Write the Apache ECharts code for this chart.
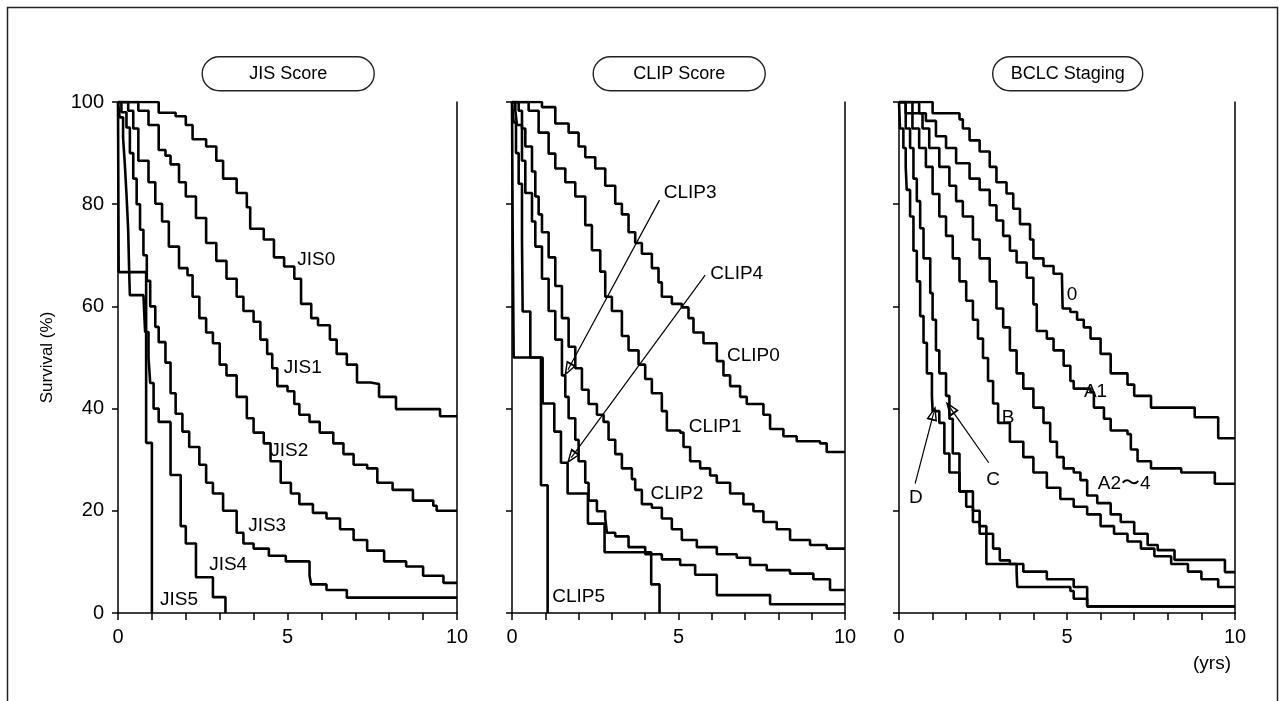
<!DOCTYPE html>
<html><head><meta charset="utf-8">
<script src="https://cdn.jsdelivr.net/npm/echarts@6/dist/echarts.min.js"></script>
<style>html,body{margin:0;padding:0;background:#fff}#c{width:1280px;height:701px}</style>
</head><body><div id="c"></div>
<script>
// ---------- data (years, survival %) ----------
const panelTitles = ['JIS Score', 'CLIP Score', 'BCLC Staging'];
const xTickValues = [0, 5, 10];
const yTickValues = [0, 20, 40, 60, 80, 100];
const xUnit = '(yrs)';
const yName = 'Survival (%)';

const JIS0 = [[0,100],[0.6,100],[1.2,97.9],[1.7,97.2],[2.0,95.5],[2.2,92.7],[2.6,91.3],[2.9,88.5],[3.1,85],[3.5,82.2],[3.8,79.4],[3.9,75.2],[4.3,73.1],[4.6,69.6],[4.9,67.8],[5.2,65.4],[5.4,60.5],[5.7,57.7],[5.9,56.3],[6.25,53.5],[6.45,50.7],[6.75,48.6],[7.05,45.1],[7.45,44.8],[7.7,42.3],[8.2,39.9],[9.5,38.5],[10,38.5]];
const JIS1 = [[0,100],[0.3,100],[0.6,98.3],[0.9,95.5],[1.2,90.6],[1.4,89.5],[1.55,87.8],[1.8,84.3],[2.0,81.5],[2.3,77.3],[2.6,72.4],[2.9,68.9],[3.2,65.4],[3.5,61.9],[3.7,59.1],[4.0,57.0],[4.2,53.5],[4.4,50.7],[4.55,47.9],[4.7,44.4],[5.0,43.4],[5.2,40.9],[5.35,38.8],[5.65,37.4],[5.95,35.3],[6.35,33.2],[6.65,31.1],[6.95,29.0],[7.35,28.3],[7.65,25.5],[8.1,24.1],[8.7,22.0],[9.3,21.0],[9.4,20.0],[10,20.0]];
const JIS2 = [[0,100],[0.1,100],[0.3,98.3],[0.45,94.8],[0.6,88.5],[0.9,84.3],[1.1,80.1],[1.3,76.6],[1.5,71.7],[1.8,67.5],[2.05,66.1],[2.2,61.9],[2.4,57.7],[2.6,54.9],[2.8,52.8],[3.0,48.6],[3.2,46.5],[3.5,42.3],[3.8,38.1],[4.0,35.3],[4.3,33.2],[4.5,29.7],[4.8,25.5],[5.1,23.4],[5.35,21.3],[5.75,19.6],[6.15,18.5],[6.55,16.4],[6.95,14.3],[7.35,12.2],[7.85,10.1],[8.5,9.1],[9.0,7.3],[9.6,5.9],[10,5.9]];
const JIS3 = [[0,100],[0.1,98],[0.25,95],[0.35,90],[0.45,85],[0.55,80],[0.65,75],[0.75,70],[0.85,65],[0.95,60],[1.1,56],[1.2,53],[1.4,49],[1.55,43],[1.7,39],[1.9,35.5],[2.1,32.5],[2.4,29],[2.6,25.5],[2.8,23.4],[3.1,20],[3.5,15.7],[3.7,13.6],[4.0,12.6],[4.45,11.2],[4.95,10.1],[5.65,7.3],[5.7,5.6],[6.15,4.5],[6.75,3.0],[10,3.0]];
const JIS4 = [[0,100],[0.05,97],[0.15,93],[0.2,88],[0.25,82],[0.3,75],[0.33,66.7],[0.35,62.2],[0.75,62.2],[0.8,55],[0.9,50],[0.95,45],[1.05,40],[1.2,37.4],[1.55,27],[1.85,17],[2.0,13.6],[2.3,7.0],[2.8,3.1],[3.17,0]];
const JIS5 = [[0,100],[0.02,66.7],[0.83,33.3],[1.0,0]];

const CLIP0 = [[0,100],[0.7,100],[0.9,99],[1.3,95.8],[1.7,94],[2.0,91.3],[2.2,89.2],[2.5,87],[2.8,83.6],[3.1,80.1],[3.3,78],[3.5,74.5],[3.7,72.4],[3.9,70.3],[4.2,67.5],[4.4,64.7],[4.5,61.9],[4.8,60.5],[5.1,59.8],[5.3,57.7],[5.45,54.9],[5.75,52.8],[6.15,49.3],[6.35,46.5],[6.55,44.4],[6.85,42.3],[7.05,40.9],[7.55,38.8],[7.75,36.0],[8.15,34.6],[8.55,33.6],[9.25,33.2],[9.45,31.5],[10,31.5]];
const CLIP1 = [[0,100],[0.3,100],[0.5,98.3],[0.8,94],[1.1,89.9],[1.3,87],[1.6,84.3],[1.9,81.5],[2.2,75.9],[2.4,71],[2.65,66.8],[2.8,61.9],[3.0,59.1],[3.3,54.2],[3.5,51.4],[3.8,48.6],[4.0,45.8],[4.2,43.0],[4.5,39.5],[4.65,35.7],[5.05,35.3],[5.15,32.5],[5.35,29.7],[5.65,28.3],[5.95,26.9],[6.15,25.5],[6.55,23.4],[6.95,21.3],[7.25,19.9],[7.55,17.8],[7.95,16.4],[8.35,14.3],[8.95,13.3],[9.45,12.6],[10,12.6]];
const CLIP2 = [[0,100],[0.1,100],[0.2,98.3],[0.3,94.8],[0.4,91.3],[0.6,86.4],[0.7,81.5],[0.8,78],[0.9,74.5],[1.1,69.6],[1.3,64],[1.5,57.7],[1.7,52.1],[1.9,47.9],[2.1,43.7],[2.3,40.9],[2.55,38.8],[2.75,37.4],[2.9,33.9],[3.1,31.1],[3.3,28.3],[3.6,26.2],[3.7,24.1],[3.9,21.3],[4.2,20.6],[4.5,18.5],[4.8,16.4],[5.1,14.3],[5.55,12.9],[6.15,11.5],[6.75,10.8],[7.15,9.4],[7.65,8.4],[8.35,7.7],[9.05,6.6],[9.55,4.5],[10,4.5]];
const CLIP3 = [[0,100],[0.05,100],[0.1,98.3],[0.15,95.5],[0.3,88.5],[0.4,82.2],[0.6,76.6],[0.7,71.7],[0.9,65.4],[1.1,59.1],[1.3,53.5],[1.5,46.5],[1.6,42.3],[1.7,38.1],[1.9,33.9],[2.0,29.7],[2.2,25.5],[2.3,22],[2.55,19.9],[2.8,18.5],[2.85,15.7],[3.1,15.0],[3.5,12.9],[4.0,11.5],[4.5,10.5],[5.05,9.4],[5.5,7.5],[6.15,3.5],[7.75,1.7],[10,1.7]];
const CLIP4 = [[0,100],[0.05,96],[0.12,90],[0.2,84],[0.3,73],[0.32,59],[0.55,50],[0.92,41],[1.27,35.5],[1.47,29.4],[1.67,23.4],[2.28,17.5],[2.78,11.9],[4.18,5.6],[4.43,0]];
const CLIP5 = [[0,100],[0.02,75],[0.05,50],[0.87,25],[1.07,0]];

const BCLC0 = [[0,100],[0.6,100],[1.0,97.8],[1.8,96.6],[1.9,94.8],[2.1,92.5],[2.4,90.3],[2.7,87.3],[2.9,84.3],[3.2,82.1],[3.4,79.1],[3.6,76.1],[3.9,73.1],[4.0,69.4],[4.3,67.9],[4.6,66.4],[4.85,65.6],[4.87,59.6],[5.1,58.9],[5.3,57.4],[5.5,55.9],[5.7,53.7],[6.0,50.7],[6.3,46.9],[6.8,44.7],[7.0,42.5],[7.5,40.2],[8.8,38.3],[9.5,34.2],[10,34.2]];
const BCLCA1 = [[0,100],[0.3,100],[0.6,97.8],[0.8,96.3],[1.1,93.3],[1.4,91],[1.7,88],[2.1,85],[2.4,82.8],[2.7,79.8],[2.9,76.8],[3.1,73.8],[3.3,70.9],[3.5,68.6],[3.8,65.6],[4.0,60.4],[4.1,55.2],[4.4,53.7],[4.6,51.4],[4.9,48.4],[5.1,45.4],[5.2,43.9],[5.7,43.2],[5.8,40.2],[6.1,38],[6.3,35.7],[6.8,35],[6.9,32],[7.1,29.7],[7.5,28.3],[8.4,27.5],[9.4,25.3],[10,25.3]];
const BCLCA24 = [[0,100],[0.2,100],[0.4,97.8],[0.7,94.8],[0.9,91],[1.2,87.3],[1.5,83.6],[1.7,80.6],[1.9,77.6],[2.2,73.1],[2.4,69.4],[2.7,64.9],[2.9,59.6],[3.1,55.9],[3.3,51.4],[3.5,46.9],[3.7,43.9],[4.0,40.2],[4.3,37.2],[4.5,33.5],[4.7,30.5],[4.9,28.3],[5.2,27.5],[5.4,26],[5.6,23],[5.9,21.5],[6.3,19.3],[6.6,17.8],[7.0,15.5],[7.4,13.3],[7.7,12.3],[8.2,10.4],[9.7,8.0],[10,8.0]];
const BCLCB = [[0,100],[0.05,100],[0.2,97.8],[0.4,94.8],[0.6,91],[0.8,87.3],[1.0,82],[1.2,77.6],[1.4,73.8],[1.6,69.4],[1.8,64.9],[2.0,61.1],[2.2,57.4],[2.35,53.7],[2.5,49.9],[2.65,45.4],[2.8,41],[2.95,37.2],[3.3,33.5],[3.7,30.5],[4.0,27.5],[4.4,24.5],[4.8,22.3],[5.2,20.8],[5.6,19.3],[6.0,17],[6.4,15.5],[6.8,14],[7.2,12.6],[7.6,11.1],[8.1,9.6],[8.6,8.1],[9.0,6.6],[9.5,5.1],[10,5.1]];
const BCLCC = [[0,100],[0.05,100],[0.2,94.8],[0.33,91],[0.43,85],[0.53,80.6],[0.63,75.3],[0.73,69.4],[0.93,62.6],[1.0,57.4],[1.1,51.4],[1.2,46.9],[1.4,42.5],[1.5,38],[1.6,31.2],[1.8,23.8],[2.2,20],[2.4,17],[2.6,15.5],[2.8,12.6],[3.0,10.3],[3.3,9.6],[3.7,8.1],[4.4,6.6],[5.2,5.1],[5.6,1.3],[10,1.3]];
const BCLCD = [[0,100],[0.03,94.8],[0.13,91],[0.2,87.3],[0.23,82.8],[0.33,77.6],[0.43,70.9],[0.53,64.9],[0.63,58.1],[0.73,52.9],[0.83,46.9],[0.98,42.5],[1.0,39.5],[1.2,37.2],[1.35,31.2],[1.5,27.5],[1.8,23.8],[2.0,20.8],[2.2,17.8],[2.4,15.5],[2.6,9.6],[3.5,8.1],[3.52,5.1],[5.1,4.3],[5.2,2.8],[5.6,1.3],[10,1.3]];

const jisCurves = [JIS0, JIS1, JIS2, JIS3, JIS4, JIS5];
const clipCurves = [CLIP0, CLIP1, CLIP2, CLIP3, CLIP4, CLIP5];
const bclcCurves = [BCLC0, BCLCA1, BCLCA24, BCLCB, BCLCC, BCLCD];

// curve labels: [x, y, text]
const jisLabels = [[5.85,69.2,'JIS0'],[5.45,47.9,'JIS1'],[5.05,31.8,'JIS2'],[4.4,17.1,'JIS3'],[3.25,9.4,'JIS4'],[1.8,2.6,'JIS5']];
const clipLabels = [[5.35,82.2,'CLIP3'],[6.75,66.4,'CLIP4'],[7.25,50.3,'CLIP0'],[6.1,36.4,'CLIP1'],[4.95,23.4,'CLIP2'],[2.0,3.1,'CLIP5']];
const bclcLabels = [[5.15,62.3,'0'],[5.85,43.2,'A1'],[3.25,38.3,'B'],[6.7,25.3,'A2〜4'],[2.8,26,'C'],[0.5,22.6,'D']];
// arrows: [fromX, fromY, toX, toY]
const jisArrows = [];
const clipArrows = [[4.43,80.8,1.68,47.6],[5.8,66.1,1.78,30.4]];
const bclcArrows = [[0.48,25.3,1.03,39.1],[2.67,29.4,1.52,40.2]];

// ---------- layout ----------
const FONT = '"Liberation Sans", Arial, Helvetica, sans-serif';
const HOLLOW_ARROW = 'path://M10 0 L20 28 L0 28 Z M10 8 L4 24.5 L16 24.5 Z';
const panels = [
  {left:118, width:339, curves:jisCurves, labels:jisLabels, arrows:jisArrows, pillW:172},
  {left:512, width:333, curves:clipCurves, labels:clipLabels, arrows:clipArrows, pillW:172},
  {left:899, width:336, curves:bclcCurves, labels:bclcLabels, arrows:bclcArrows, pillW:150}
];
const TOP = 102, H = 511;

const grid = [], xAxis = [], yAxis = [], series = [], graphic = [];
panels.forEach((p, i) => {
  grid.push({left:p.left, top:TOP, width:p.width, height:H, containLabel:false});
  xAxis.push({
    type:'value', gridIndex:i, min:0, max:10, interval:5,
    axisLine:{show:true, onZero:false, lineStyle:{color:'#000', width:1.5}},
    axisTick:{show:true, inside:false, length:7, lineStyle:{color:'#000', width:1.5}},
    minorTick:{show:true, splitNumber:5, length:7, lineStyle:{color:'#000', width:1.5}},
    splitLine:{show:false}, minorSplitLine:{show:false},
    axisLabel:{show:true, color:'#000', fontSize:20, fontFamily:FONT, margin:14,
      formatter: v => xTickValues.includes(v) ? String(v) : ''}
  });
  yAxis.push({
    type:'value', gridIndex:i, min:0, max:100, interval:20, position:'left',
    axisLine:{show:true, onZero:false, lineStyle:{color:'#000', width:1.5}},
    axisTick:{show:true, inside:false, length:6, lineStyle:{color:'#000', width:1.5}},
    splitLine:{show:false},
    axisLabel:{show:i===0, color:'#000', fontSize:20, fontFamily:FONT, margin:14,
      formatter: v => yTickValues.includes(v) ? String(v) : ''},
    name: i===0 ? yName : '', nameLocation:'middle', nameGap:62, nameRotate:90,
    nameTextStyle:{color:'#000', fontSize:17, fontFamily:FONT}
  });
  yAxis.push({
    type:'value', gridIndex:i, min:0, max:100, position:'right',
    axisLine:{show:true, onZero:false, lineStyle:{color:'#000', width:1.5}},
    axisTick:{show:false}, axisLabel:{show:false}, splitLine:{show:false}
  });
  p.curves.forEach(c => {
    series.push({
      type:'line', xAxisIndex:i, yAxisIndex:i*2, data:c, step:'end',
      showSymbol:false, symbol:'none', silent:true,
      lineStyle:{color:'#000', width:2.6}, z:3
    });
  });
  series.push({
    type:'scatter', xAxisIndex:i, yAxisIndex:i*2, symbolSize:0, silent:true, z:5,
    itemStyle:{opacity:1, color:'#000'},
    data:p.labels.map(l => ({value:[l[0], l[1]], name:l[2]})),
    label:{show:true, position:[0,0], align:'center', verticalAlign:'middle',
      formatter: d => d.name, color:'#000', opacity:1, textBorderWidth:0,
      fontSize:19, fontFamily:FONT},
    markLine: {
      silent:true, symbol:['none', HOLLOW_ARROW], symbolSize:[11,15],
      label:{show:false}, lineStyle:{color:'#000', width:1.2, type:'solid', opacity:1},
      data: p.arrows.map(a => [{coord:[a[0],a[1]]},{coord:[a[2],a[3]]}])
    }
  });
  // title pill
  const cx = p.left + p.width/2;
  graphic.push({
    type:'group', left: cx - p.pillW/2, top: 56,
    children:[
      {type:'rect', shape:{x:0, y:0, width:p.pillW, height:34, r:17},
       style:{fill:'#fff', stroke:'#222', lineWidth:1.4}},
      {type:'text', x:p.pillW/2, y:17,
       style:{text:panelTitles[i], fill:'#000', font:'18px ' + FONT, align:'center', verticalAlign:'middle'}}
    ]
  });
});

// outer frame and units
graphic.push({type:'rect', left:5, top:5, shape:{x:0,y:0,width:1270,height:720},
  style:{fill:'none', stroke:'#222', lineWidth:1.5}, z:-1, silent:true});
graphic.push({type:'text', left:1193, top:654,
  style:{text:xUnit, fill:'#000', font:'19px ' + FONT}});

const chart = echarts.init(document.getElementById('c'), null, {renderer:'canvas'});
chart.setOption({animation:false, backgroundColor:'#fff', grid, xAxis, yAxis, series, graphic});
</script></body></html>
